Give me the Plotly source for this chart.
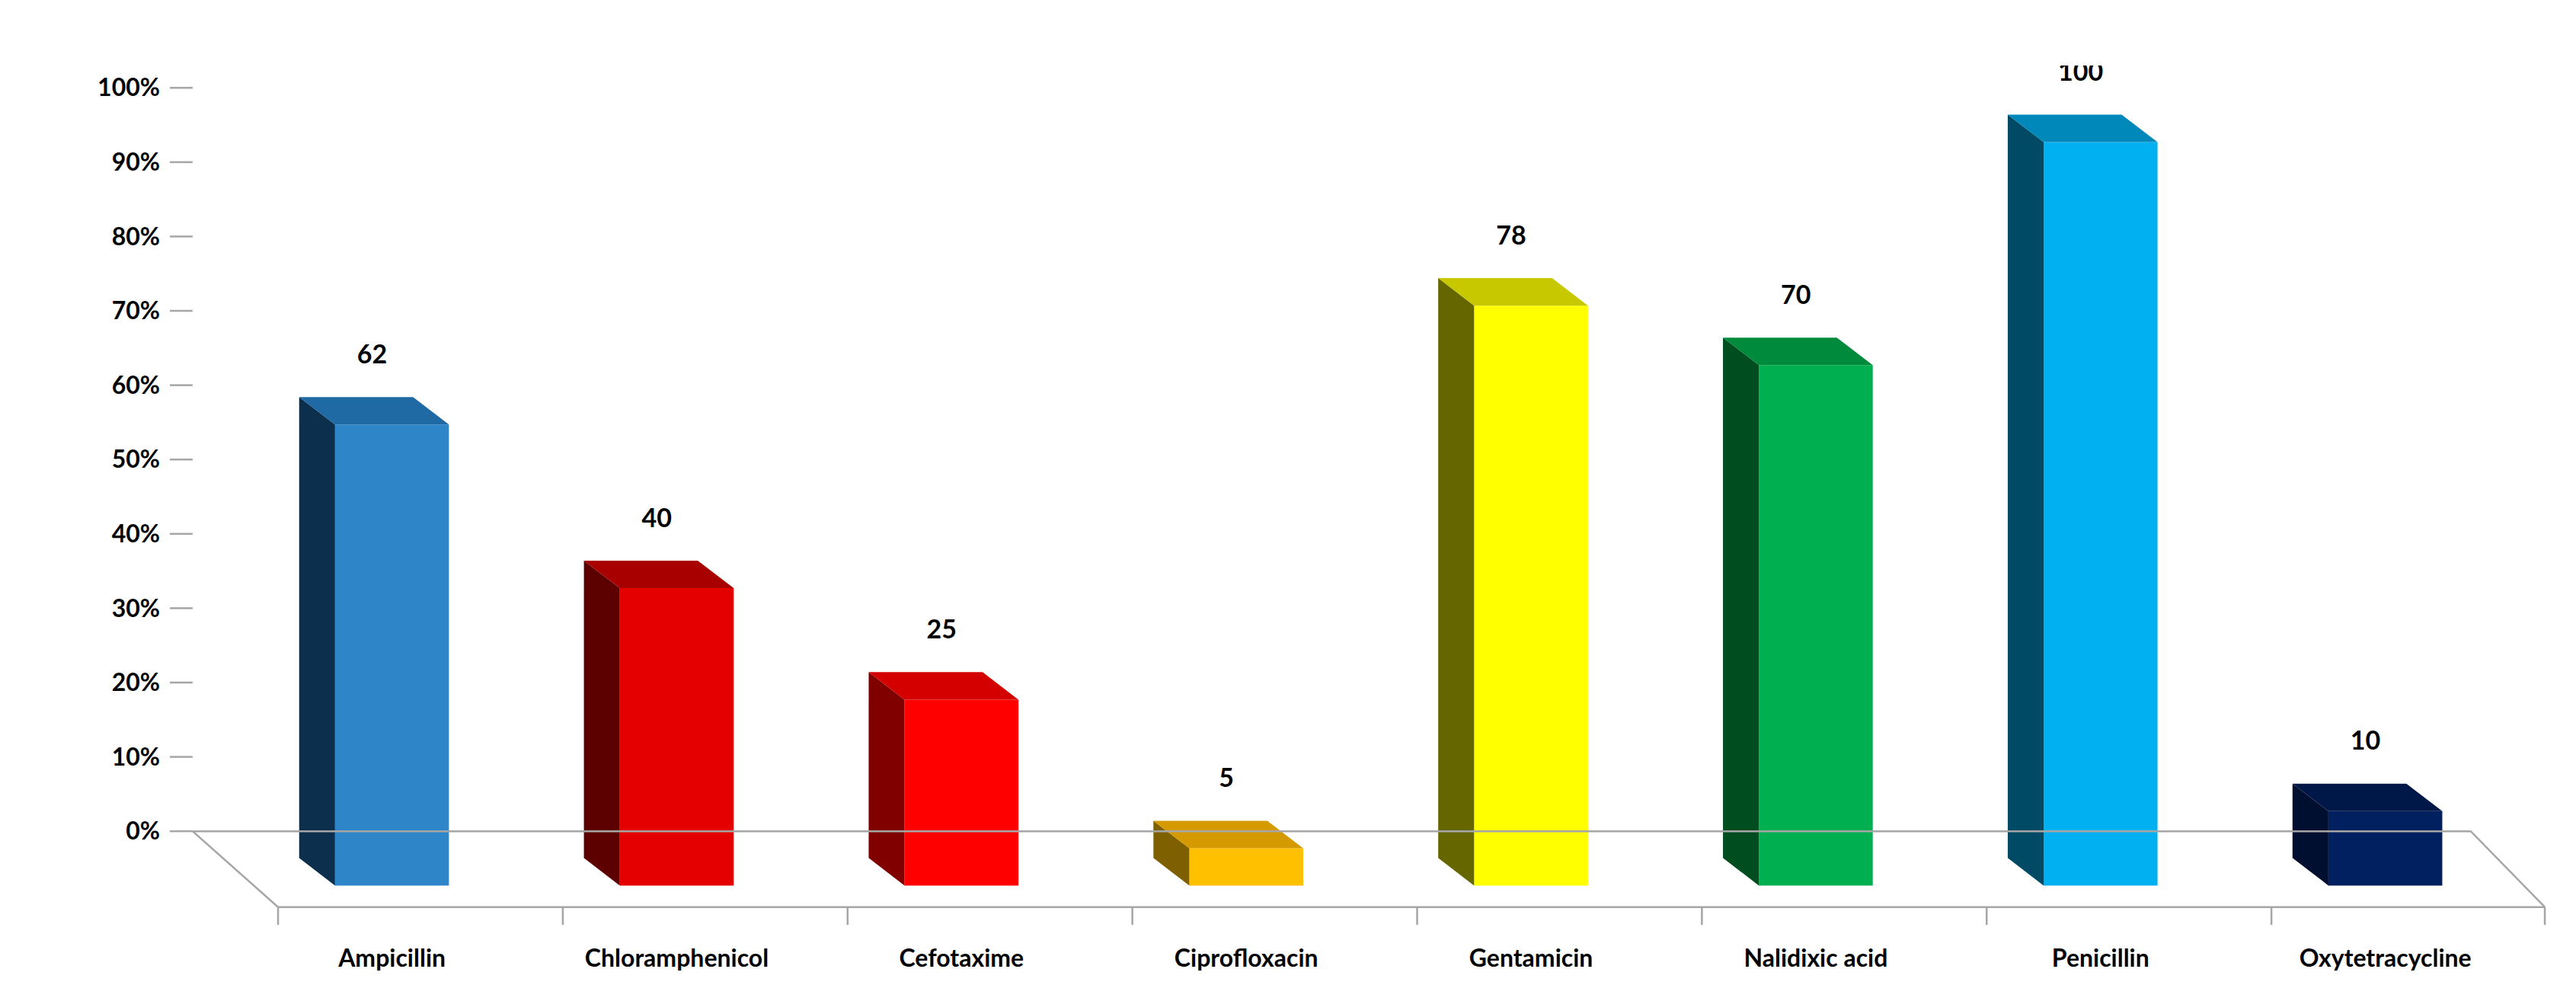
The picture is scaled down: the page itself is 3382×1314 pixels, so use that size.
import plotly.graph_objects as go

categories = ["Ampicillin", "Chloramphenicol", "Cefotaxime", "Ciprofloxacin",
              "Gentamicin", "Nalidixic acid", "Penicillin", "Oxytetracycline"]
values = [62, 40, 25, 5, 78, 70, 100, 10]
front_colors = ["#2E86C8", "#E50000", "#FF0000", "#FFC000", "#FFFF00", "#00B050", "#00B0F0", "#002060"]
side_colors = ["#0B2F4C", "#5C0000", "#800000", "#7F6000", "#666600", "#004D20", "#004A66", "#000F30"]
top_colors = ["#1F6AA5", "#A80000", "#D40000", "#D49A00", "#C8C800", "#008A3C", "#0088BB", "#001848"]
yticks = list(range(0, 101, 10))

# 3D style parameters
HALF_W = 0.2
DX = 0.126
DY = 3.7
BASE = -7.3
GRAY = "#A6A6A6"

fig = go.Figure()
xs = list(range(len(categories)))

for i, v in enumerate(values):
    top = v + BASE
    fig.add_trace(go.Scatter(
        x=[i - HALF_W, i - HALF_W - DX, i - HALF_W - DX, i - HALF_W, i - HALF_W],
        y=[BASE, BASE + DY, top + DY, top, BASE],
        fill="toself", fillcolor=side_colors[i], mode="lines", line=dict(width=0),
        hoverinfo="skip", showlegend=False))
    fig.add_trace(go.Scatter(
        x=[i - HALF_W, i - HALF_W - DX, i + HALF_W - DX, i + HALF_W, i - HALF_W],
        y=[top, top + DY, top + DY, top, top],
        fill="toself", fillcolor=top_colors[i], mode="lines", line=dict(width=0),
        hoverinfo="skip", showlegend=False))

fig.add_trace(go.Bar(x=xs, y=values, base=BASE, width=2 * HALF_W,
                     marker=dict(color=front_colors, line=dict(width=0)), showlegend=False))

fig.add_trace(go.Scatter(
    x=[i - 0.07 for i in xs], y=[v + 1.8 for v in values], mode="text",
    text=[str(v) for v in values],
    textfont=dict(family="Lato", size=34, color="black", weight="bold"),
    showlegend=False, hoverinfo="skip"))

# floor
fl_x = [-0.70, 7.30, 7.56, -0.40, -0.70]
fl_y = [0, 0, -10.2, -10.2, 0]
fig.add_trace(go.Scatter(x=fl_x, y=fl_y, mode="lines", line=dict(color=GRAY, width=2.5),
                         hoverinfo="skip", showlegend=False))
tx, ty = [], []
for k in range(len(categories) + 1):
    xb = k - 0.4 if k < len(categories) else 7.56
    tx += [xb, xb, None]
    ty += [-10.2, -12.6, None]
fig.add_trace(go.Scatter(x=tx, y=ty, mode="lines", line=dict(color=GRAY, width=2.5),
                         hoverinfo="skip", showlegend=False))
# y ticks
yx, yy = [], []
for t in yticks:
    yx += [-0.78, -0.70, None]
    yy += [t, t, None]
fig.add_trace(go.Scatter(x=yx, y=yy, mode="lines", line=dict(color=GRAY, width=2.5),
                         hoverinfo="skip", showlegend=False))

fig.update_layout(
    width=3382, height=1314, plot_bgcolor="white", paper_bgcolor="white",
    margin=dict(l=215, r=34, t=78, b=104),
    xaxis=dict(range=[-0.78, 7.6], tickvals=xs, ticktext=categories, showgrid=False,
               zeroline=False, showline=False, ticks="", ticklabelstandoff=18,
               tickfont=dict(family="Lato", size=32, color="black", weight="bold")),
    yaxis=dict(range=[-13, 103], tickvals=yticks, ticktext=[f"{t}%" for t in yticks],
               showgrid=False, zeroline=False, showline=False, ticks="",
               ticklabelstandoff=12,
               tickfont=dict(family="Lato", size=32, color="black", weight="bold")),
)
fig.write_html("out.html")
